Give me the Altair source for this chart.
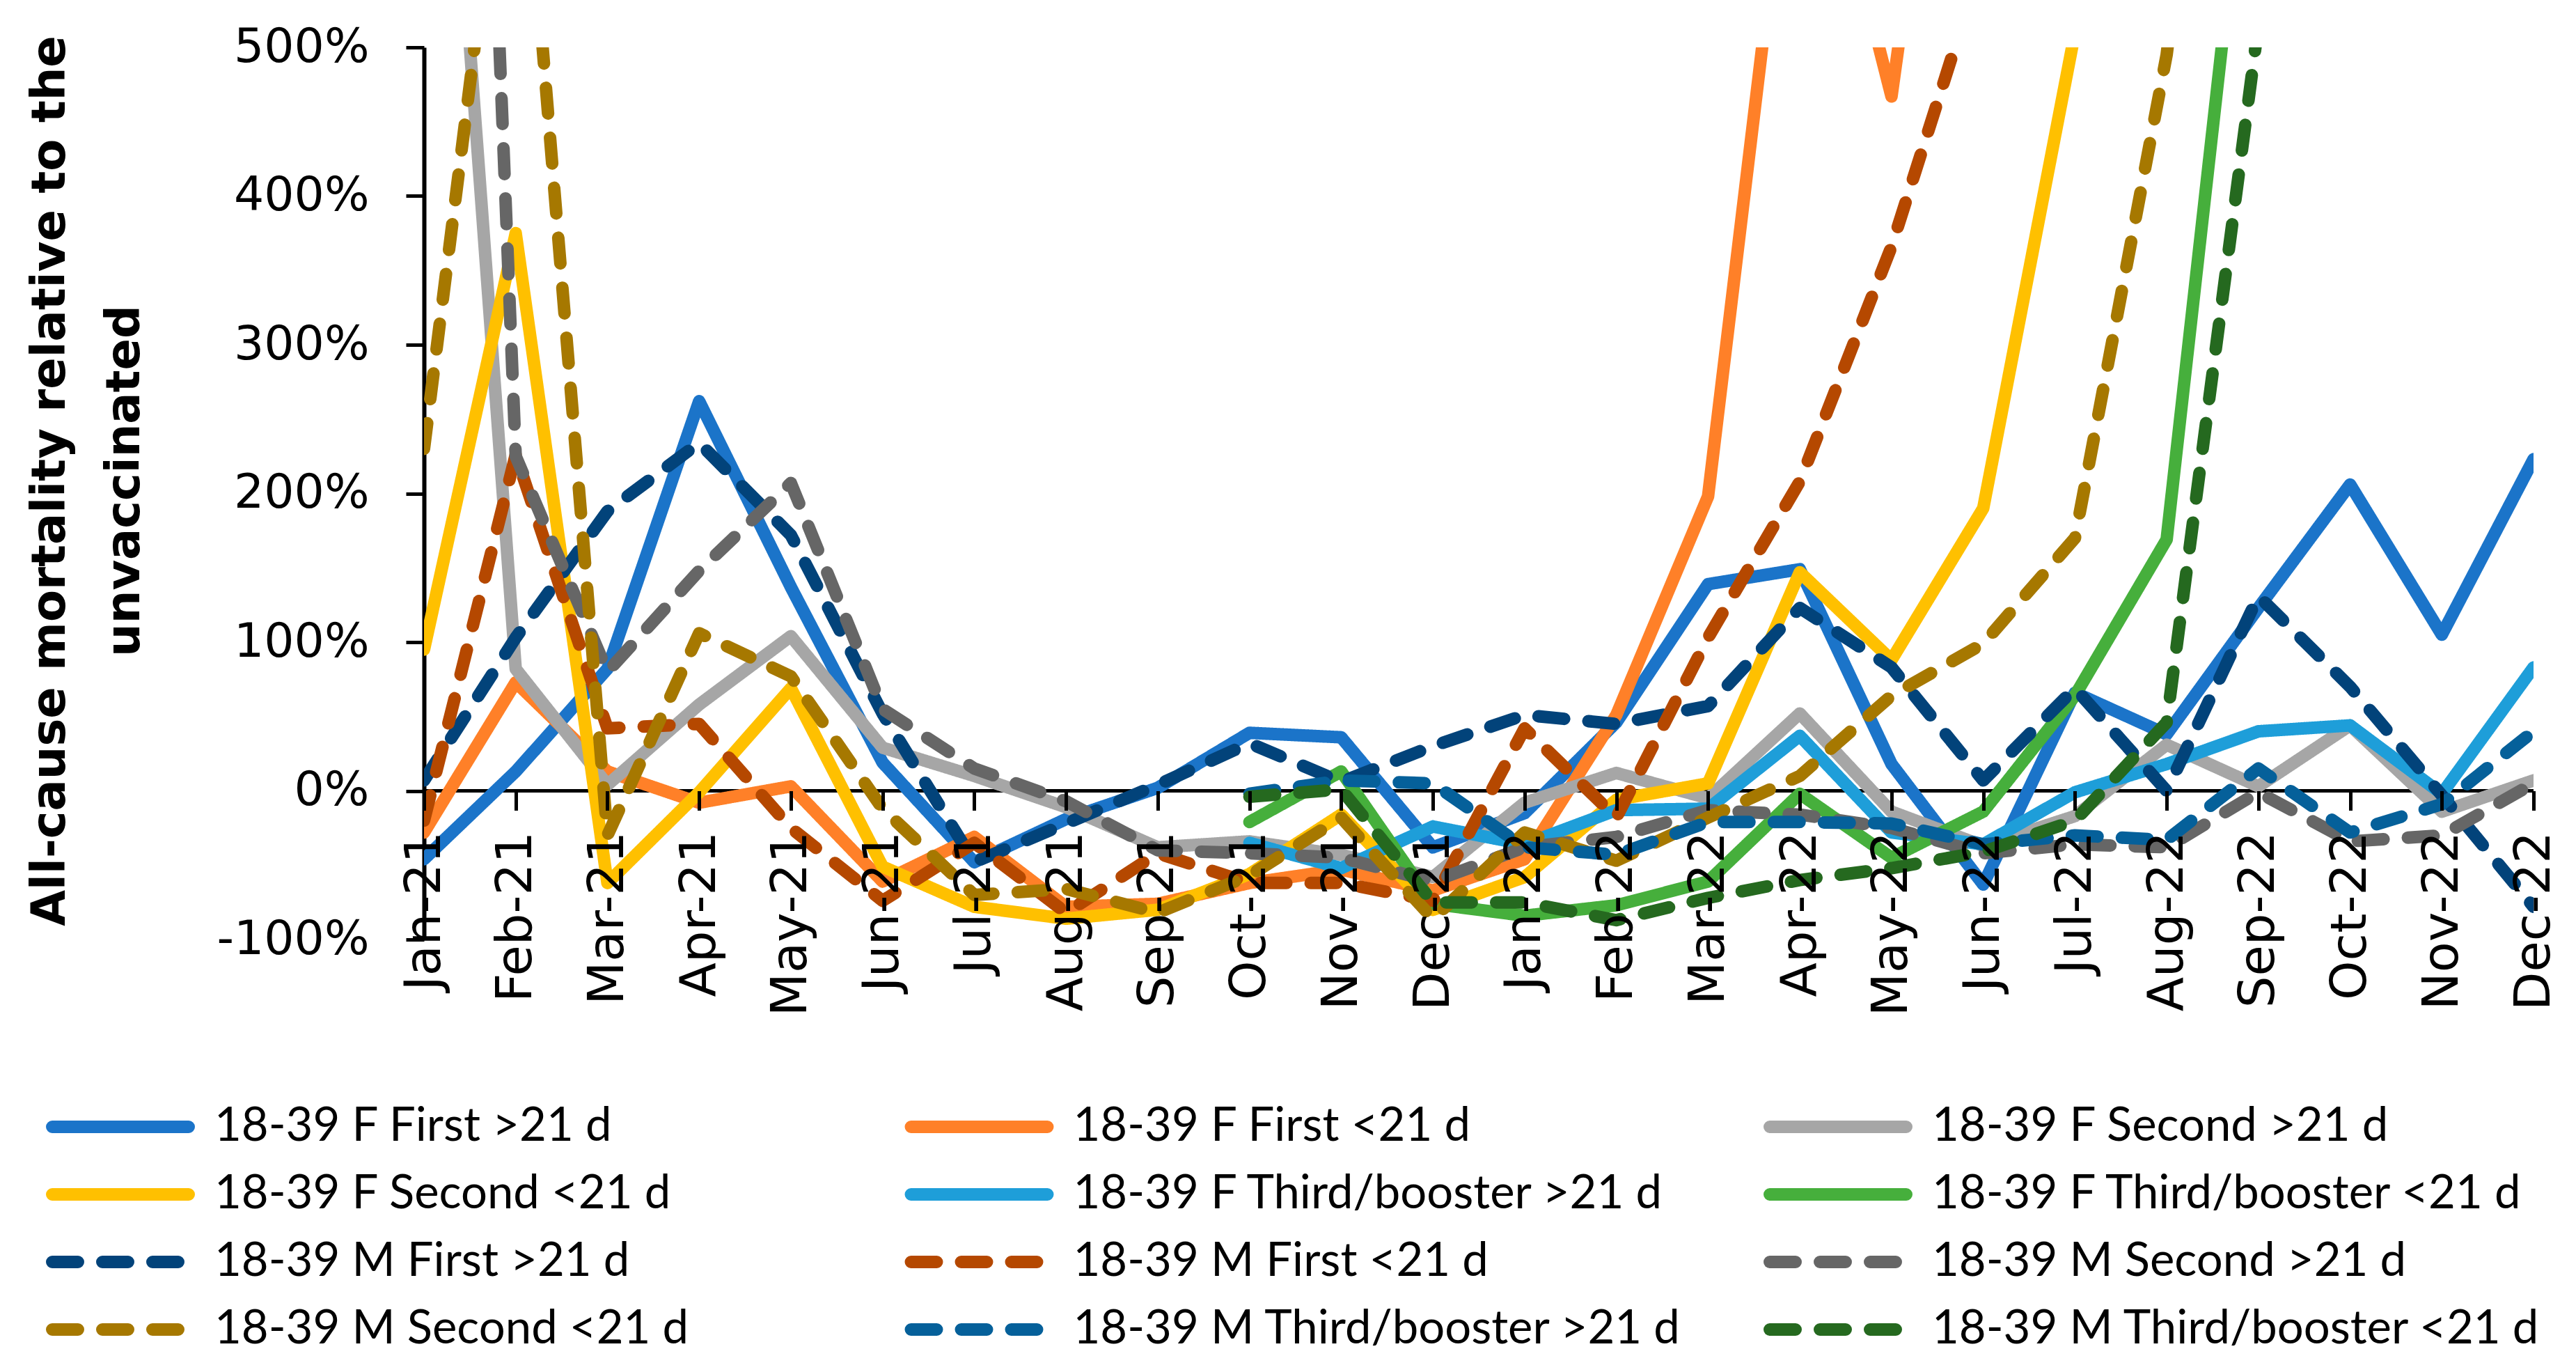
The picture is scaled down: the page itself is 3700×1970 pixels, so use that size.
import altair as alt
import pandas as pd

months = ["Jan-21", "Feb-21", "Mar-21", "Apr-21", "May-21", "Jun-21", "Jul-21", "Aug-21",
          "Sep-21", "Oct-21", "Nov-21", "Dec-21", "Jan-22", "Feb-22", "Mar-22", "Apr-22",
          "May-22", "Jun-22", "Jul-22", "Aug-22", "Sep-22", "Oct-22", "Nov-22", "Dec-22"]

series_names = [
    "18-39 F First >21 d", "18-39 F First <21 d", "18-39 F Second >21 d",
    "18-39 F Second <21 d", "18-39 F Third/booster >21 d", "18-39 F Third/booster <21 d",
    "18-39 M First >21 d", "18-39 M First <21 d", "18-39 M Second >21 d",
    "18-39 M Second <21 d", "18-39 M Third/booster >21 d", "18-39 M Third/booster <21 d",
]

colors = ["#1B74C9", "#FF8028", "#A6A6A6", "#FFC000", "#1E9ED9", "#46AF3C",
          "#02437A", "#B54800", "#666666", "#A67800", "#05609A", "#25691F"]

SOLID = [1, 0]
DASH = [37, 35]
dashes = [SOLID] * 6 + [DASH] * 6

N = None
f_first_gt = [-46, 13, 82, 262, 137, 19, -48, -19, 2, 39, 36, -38, -15, 46, 139, 149, 18, -63, 66, 38, 123, 206, 105, 223]
f_first_lt = [-28, 73, 13, -8, 3, -61, -31, -78, -76, -62, -53, -67, -46, 51, 198, 710, 467, 910, N, N, N, N, N, N]
f_second_gt = [920, 82, 4, 58, 104, 29, 10, -11, -38, -34, -43, -58, -8, 12, -5, 52, -14, -37, -17, 31, 3, 44, -14, 7]
f_second_lt = [95, 375, -62, -1, 69, -51, -78, -86, -80, -56, -16, -80, -58, -6, 5, 147, 88, 190, 510, N, N, N, N, N]
f_third_gt = [N, N, N, N, N, N, N, N, N, -35, -52, -24, -36, -13, -12, 37, -28, -36, -1, 18, 40, 44, -2, 83]
f_third_lt = [N, N, N, N, N, N, N, N, N, -21, 13, -76, -84, -77, -61, -2, -45, -14, 64, 169, 720, N, N, N]
m_first_gt = [7, 103, 188, 234, 172, 52, -48, -22, 4, 32, 6, 30, 51, 45, 57, 123, 83, 7, 69, 0, 131, 70, -3, -78]
m_first_lt = [-20, 226, 42, 45, -25, -74, -35, -82, -42, -62, -62, -74, 42, -18, 103, 208, 366, 560, N, N, N, N, N, N]
m_second_gt = [1780, 225, 80, 148, 207, 55, 15, -7, -40, -42, -45, -61, -38, -31, -13, -16, -25, -42, -36, -38, -1, -34, -30, 5]
m_second_lt = [230, 720, -30, 106, 77, -12, -70, -66, -82, -57, -18, -86, -28, -47, -18, 10, 64, 99, 170, 495, 1000, N, N, N]
m_third_gt = [N, N, N, N, N, N, N, N, N, -2, 7, 5, -38, -43, -21, -21, -22, -36, -30, -33, 15, -28, -9, 40]
m_third_lt = [N, N, N, N, N, N, N, N, N, -4, 1, -75, -75, -87, -72, -60, -52, -41, -20, 46, 515, N, N, N]

series_values = [f_first_gt, f_first_lt, f_second_gt, f_second_lt, f_third_gt, f_third_lt,
                 m_first_gt, m_first_lt, m_second_gt, m_second_lt, m_third_gt, m_third_lt]

y_ticks = [-100, 0, 100, 200, 300, 400, 500]

rows = []
for name, vals in zip(series_names, series_values):
    for m, v in zip(months, vals):
        if v is not None:
            rows.append({"month": m, "series": name, "value": v})
df = pd.DataFrame(rows)

leg_df = pd.DataFrame({
    "series": series_names,
    "col": [i % 3 for i in range(len(series_names))],
    "row": [i // 3 for i in range(len(series_names))],
})

W, H = 3030, 1281
color_scale = alt.Scale(domain=series_names, range=colors)
dash_scale = alt.Scale(domain=series_names, range=dashes)
y_scale = alt.Scale(domain=[-100, 500], nice=False, zero=False)

zero_rule = alt.Chart(df).mark_rule(color="black", strokeWidth=5).encode(
    y=alt.datum(0)
)

lines = alt.Chart(df).mark_line(
    strokeWidth=18, strokeCap="round", strokeJoin="round", clip=True
).encode(
    x=alt.X("month:N", sort=months, scale=alt.Scale(type="point", padding=0),
            axis=alt.Axis(title=None, labelAngle=270, labelAlign="right", labelBaseline="middle",
                          labelFont="DejaVu Sans", labelFontSize=72, labelColor="black",
                          labelPadding=30, labelOverlap=False, labelFlush=False, labelBound=False,
                          labelLimit=2000,
                          tickSize=28, tickWidth=5, tickColor="black", domain=False,
                          grid=False, offset=-213.5, zindex=1)),
    y=alt.Y("value:Q", scale=y_scale,
            axis=alt.Axis(values=y_ticks, labelExpr="datum.value + '%'",
                          labelFont="DejaVu Sans", labelFontSize=68, labelColor="black",
                          labelPadding=53, labelLimit=2000, tickSize=26, tickWidth=5, tickColor="black",
                          domainColor="black", domainWidth=6, grid=False,
                          title=["All-cause mortality relative to the", "unvaccinated"],
                          titleFont="DejaVu Sans", titleFontWeight="bold", titleFontSize=67,
                          titleLineHeight=107, titleColor="black", titleAngle=270,
                          titleAlign="center", titleBaseline="top", titleX=-570, titleY=622,
                          titleLimit=3000)),
    color=alt.Color("series:N", scale=color_scale, legend=None),
    strokeDash=alt.StrokeDash("series:N", scale=dash_scale, legend=None),
)

leg_x = alt.X("col:Q", scale=alt.Scale(domain=[0, 2], range=[-543, 1924]), axis=None)
leg_y = alt.Y("row:Q", scale=alt.Scale(domain=[0, 3], range=[1550, 1841]), axis=None)

leg_rules = alt.Chart(leg_df).mark_rule(
    strokeWidth=18, strokeCap="round", xOffset=9, x2Offset=205
).encode(
    x=leg_x, x2=alt.X2("col:Q"), y=leg_y,
    color=alt.Color("series:N", scale=color_scale, legend=None),
    strokeDash=alt.StrokeDash("series:N", scale=dash_scale, legend=None),
)

leg_text = alt.Chart(leg_df).mark_text(
    align="left", baseline="middle", dx=242, font="Lato", fontSize=67, color="black"
).encode(x=leg_x, y=leg_y, text="series:N")

chart = alt.layer(
    alt.layer(zero_rule, lines),
    alt.layer(leg_rules, leg_text),
).resolve_scale(x="independent", y="independent").properties(
    width=W, height=H,
    autosize=alt.AutoSizeParams(type="none"),
    padding={"left": 601, "top": 60, "right": 45, "bottom": 602},
).configure_view(stroke=None)

chart.save("out.html", embed_options={"renderer": "svg", "actions": False})
